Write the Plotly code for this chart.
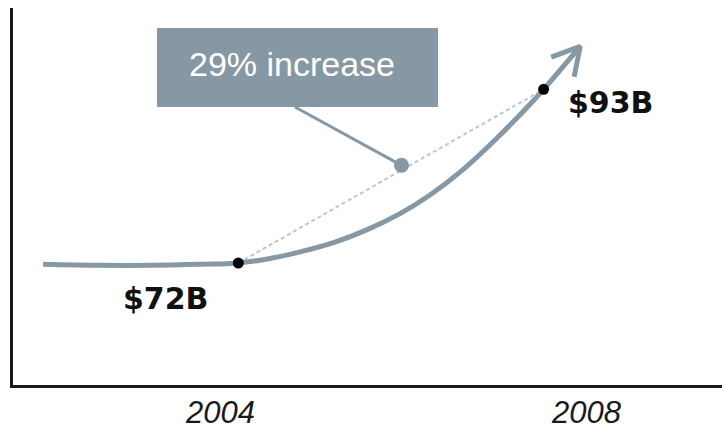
import math
import plotly.graph_objects as go

# Values shown on the chart
years = [2004, 2008]
year_labels = ["2004", "2008"]
values = [72, 93]
value_labels = ["$72B", "$93B"]
point_x = [2004.2, 2007.53]           # where each period's value sits on the timeline
increase_text = "29% increase"

# Growth curve (timeline position, value) leading into the arrow
curve_x = [2002.07, 2002.69, 2003.24, 2003.78, 2004.2, 2004.545, 2004.873, 2005.254,
           2005.582, 2005.964, 2006.291, 2006.651, 2007.022, 2007.382, 2007.53, 2007.93]
curve_y = [71.84, 71.72, 71.72, 71.84, 72.0, 72.54, 73.34, 74.53,
           75.91, 77.97, 80.22, 83.29, 87.11, 91.19, 93.0, 98.2]

# Layout geometry
W, H = 722, 429
M = dict(l=13, r=0, t=8, b=44)
XR = [2001.742, 2009.476]
YR = [57.25, 102.83]
pw = W - M["l"] - M["r"]
ph = H - M["t"] - M["b"]
sx = pw / (XR[1] - XR[0])   # px per year
sy = ph / (YR[1] - YR[0])   # px per unit value

GREY = "#8798a5"

fig = go.Figure()

# dashed chord between the two values
fig.add_trace(go.Scatter(x=point_x, y=values, mode="lines",
                         line=dict(color="#bcc7cf", width=2, dash="4px,3px"),
                         hoverinfo="skip"))

# curved growth line
fig.add_trace(go.Scatter(x=curve_x, y=curve_y, mode="lines",
                         line=dict(color=GREY, width=5, shape="spline", smoothing=1.0),
                         hoverinfo="skip"))

# open arrow head at the end of the curve
tx, ty = curve_x[-1], curve_y[-1]
dxp = (curve_x[-1] - curve_x[-2]) * sx
dyp = (curve_y[-1] - curve_y[-2]) * sy
ang = math.atan2(dyp, dxp)
blen, spread = 31, math.radians(29)
bx, by = [], []
for s in (spread, None, -spread):
    if s is None:
        bx.append(tx); by.append(ty)
        continue
    a = ang + math.pi + s
    bx.append(tx + blen * math.cos(a) / sx)
    by.append(ty + blen * math.sin(a) / sy)
fig.add_trace(go.Scatter(x=bx, y=by, mode="lines",
                         line=dict(color=GREY, width=5),
                         hoverinfo="skip"))

# callout box, connector and its end dot on the chord
box_x0, box_x1 = 2003.313, 2006.378
box_y0, box_y1 = 90.86, 100.41
dot_x, dot_y = 2005.98, 83.81
fig.add_trace(go.Scatter(x=[2004.818, dot_x], y=[box_y0, dot_y], mode="lines",
                         line=dict(color=GREY, width=3), hoverinfo="skip"))
fig.add_trace(go.Scatter(x=[dot_x], y=[dot_y], mode="markers",
                         marker=dict(color=GREY, size=15), hoverinfo="skip"))

# value markers
fig.add_trace(go.Scatter(x=point_x, y=values, mode="markers",
                         marker=dict(color="#000000", size=11), hoverinfo="skip"))

fig.add_shape(type="rect", x0=box_x0, x1=box_x1, y0=box_y0, y1=box_y1,
              xref="x", yref="y", fillcolor=GREY, line=dict(width=0), layer="below")
fig.add_annotation(x=2004.782, y=96.11, text=increase_text,
                   showarrow=False, xanchor="center", yanchor="middle",
                   font=dict(family="Liberation Sans, Arial, sans-serif", size=34, color="#ffffff"))

# value labels
shifts = [(-72.5, -35.5), (67.2, -13.2)]
for x, y, lab, (xs, ys) in zip(point_x, values, value_labels, shifts):
    fig.add_annotation(x=x, y=y, text=lab, showarrow=False, xshift=xs, yshift=ys,
                       xanchor="center", yanchor="middle",
                       font=dict(family="DejaVu Sans, sans-serif", size=30,
                                 color="#111111", weight="bold"))

# year labels under the time axis
for yr, lab in zip(years, year_labels):
    fig.add_annotation(x=yr, y=0, xref="x", yref="paper", yshift=-27,
                       text=lab, showarrow=False, xanchor="center", yanchor="middle",
                       font=dict(family="Liberation Sans, Arial, sans-serif", size=31,
                                 color="#1a1a1a", style="italic"))

fig.update_layout(
    width=W, height=H, margin=M,
    paper_bgcolor="#ffffff", plot_bgcolor="#ffffff",
    showlegend=False,
    xaxis=dict(range=XR, showgrid=False, zeroline=False, showline=True,
               linecolor="#1a1a1a", linewidth=3, ticks="", automargin=False,
               showticklabels=False),
    yaxis=dict(range=YR, showgrid=False, zeroline=False, showline=True, automargin=False,
               linecolor="#1a1a1a", linewidth=3, ticks="", showticklabels=False),
)

fig.write_html("out.html")
